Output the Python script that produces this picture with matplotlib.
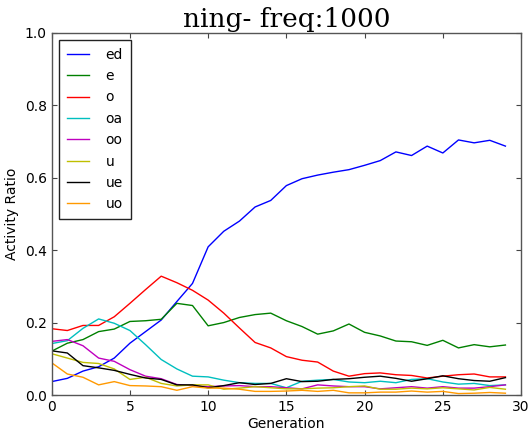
import numpy as np
import matplotlib
matplotlib.use('Agg')
import matplotlib.pyplot as plt

#%%
generation = list(range(30))

ed = [0.037, 0.046, 0.066, 0.078, 0.102, 0.143, 0.175, 0.207, 0.258, 0.308,
      0.409, 0.452, 0.480, 0.519, 0.537, 0.578, 0.597, 0.607, 0.615, 0.622,
      0.634, 0.647, 0.671, 0.661, 0.687, 0.668, 0.704, 0.696, 0.703, 0.687]
e = [0.121, 0.143, 0.153, 0.175, 0.182, 0.203, 0.205, 0.209, 0.253, 0.247,
     0.191, 0.200, 0.214, 0.222, 0.226, 0.205, 0.189, 0.168, 0.177, 0.196,
     0.173, 0.163, 0.149, 0.147, 0.137, 0.151, 0.130, 0.139, 0.133, 0.138]
o = [0.183, 0.178, 0.192, 0.192, 0.216, 0.253, 0.291, 0.328, 0.310, 0.289,
     0.262, 0.226, 0.185, 0.145, 0.130, 0.106, 0.096, 0.091, 0.066, 0.052,
     0.059, 0.061, 0.056, 0.054, 0.047, 0.052, 0.056, 0.058, 0.050, 0.050]
oa = [0.142, 0.150, 0.184, 0.210, 0.198, 0.178, 0.139, 0.098, 0.072, 0.052,
      0.050, 0.041, 0.034, 0.032, 0.032, 0.020, 0.038, 0.041, 0.043, 0.036,
      0.034, 0.038, 0.034, 0.043, 0.045, 0.036, 0.030, 0.032, 0.026, 0.028]
oo = [0.148, 0.153, 0.136, 0.102, 0.093, 0.070, 0.052, 0.045, 0.029, 0.026,
      0.023, 0.025, 0.026, 0.023, 0.023, 0.020, 0.017, 0.028, 0.025, 0.023,
      0.023, 0.017, 0.020, 0.023, 0.019, 0.023, 0.019, 0.019, 0.023, 0.028]
u = [0.114, 0.102, 0.090, 0.087, 0.072, 0.043, 0.049, 0.032, 0.025, 0.028,
     0.028, 0.016, 0.019, 0.023, 0.020, 0.017, 0.017, 0.019, 0.020, 0.023,
     0.025, 0.016, 0.016, 0.019, 0.017, 0.020, 0.017, 0.014, 0.021, 0.016]
ue = [0.122, 0.116, 0.081, 0.075, 0.068, 0.057, 0.047, 0.043, 0.028, 0.028,
      0.020, 0.026, 0.034, 0.029, 0.032, 0.045, 0.037, 0.038, 0.043, 0.045,
      0.049, 0.052, 0.046, 0.038, 0.045, 0.053, 0.045, 0.040, 0.038, 0.048]
uo = [0.089, 0.058, 0.049, 0.028, 0.037, 0.026, 0.025, 0.023, 0.013, 0.023,
      0.019, 0.019, 0.016, 0.010, 0.010, 0.011, 0.013, 0.010, 0.013, 0.006,
      0.006, 0.008, 0.008, 0.011, 0.008, 0.010, 0.004, 0.005, 0.007, 0.005]

series = [('ed', ed), ('e', e), ('o', o), ('oa', oa),
          ('oo', oo), ('u', u), ('ue', ue), ('uo', uo)]
colors = ['#0000ff', '#008000', '#ff0000', '#00bfbf',
          '#bf00bf', '#bfbf00', '#000000', '#ff9900']

#%%
fig = plt.figure(figsize=(5.29, 4.36), dpi=100)
ax = fig.add_axes([0.0977, 0.094, 0.8873, 0.831])

for (name, vals), c in zip(series, colors):
    ax.plot(generation, vals, color=c, lw=1.0, label=name)

ax.set_xlim(0, 30)
ax.set_ylim(0, 1.0)
ax.set_xticks([0, 5, 10, 15, 20, 25, 30])
ax.set_yticks([0.0, 0.2, 0.4, 0.6, 0.8, 1.0])
ax.tick_params(direction='in', top=True, right=True, length=3.5, width=0.8,
               color='#444444', labelsize=10, pad=3.5)
for s in ax.spines.values():
    s.set_color('#555555')
    s.set_linewidth(1.0)

ax.set_xlabel('Generation', fontsize=10, labelpad=2)
ax.set_ylabel('Activity Ratio', fontsize=10, labelpad=4)
ax.set_title('ning- freq:1000', family='DejaVu Serif', fontsize=19, pad=4)

leg = ax.legend(loc='upper left', fontsize=10, fancybox=False, framealpha=1,
                edgecolor='#222222', handlelength=1.6, handletextpad=1.2,
                labelspacing=0.53, borderpad=0.58, borderaxespad=0.5)
leg.get_frame().set_linewidth(1.0)

fig.savefig('out.png', dpi=100)
